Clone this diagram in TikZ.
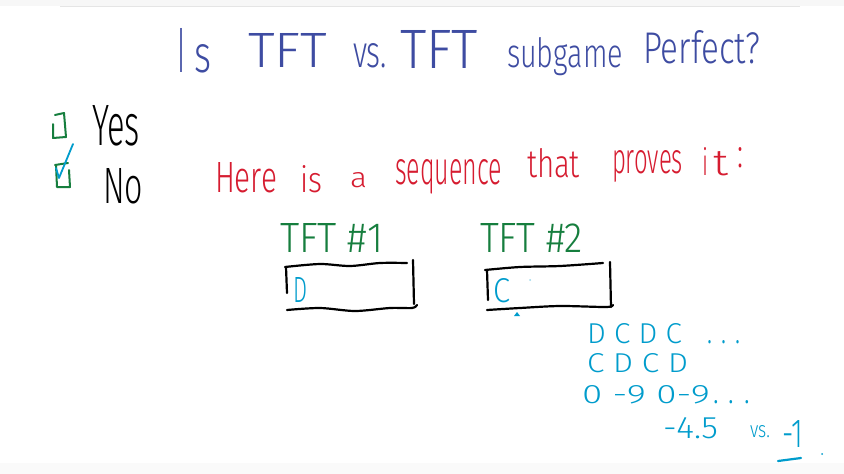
\documentclass[tikz,border=0pt]{standalone}
\usepackage{fontspec}
\setmainfont{Fira Sans Light}
\definecolor{titleblue}{RGB}{62,76,162}
\definecolor{inkred}{RGB}{214,28,48}
\definecolor{inkgreen}{RGB}{22,126,62}
\definecolor{inkcyan}{RGB}{0,156,204}
\newcommand\hw[3]{\resizebox{#1pt}{#2pt}{#3}}
\tikzset{
  txt/.style={inner sep=0pt, outer sep=0pt, anchor=base west},
  ttl/.style={txt, text=titleblue},
  red/.style={txt, text=inkred},
  grn/.style={txt, text=inkgreen},
  cyn/.style={txt, text=inkcyan},
  blk/.style={txt, text=black},
  boxline/.style={draw=black, line width=2.2pt, line cap=round, line join=round},
  chk/.style={draw=inkgreen, line width=2pt, line cap=round, line join=round},
  pen/.style={draw=inkcyan, line width=2.2pt, line cap=round, line join=round}
}
\begin{document}
\begin{tikzpicture}[x=1pt,y=-1pt]
\useasboundingbox (0,0) rectangle (844,474);
\fill[white] (0,0) rectangle (844,474);
\fill[black!3] (0,0) rectangle (844,6);
\draw[black!10, line width=0.6pt] (60,6.5) -- (800,6.5);
\fill[black!2] (0,463) rectangle (844,474);

% title
\node[ttl] (w1a) at (177,72) {\hw{8}{44}{I}};
\node[ttl] (w1b) at (194,72) {\hw{17}{28}{s}};
\node[ttl] (w2) at (248,67) {\hw{79}{34}{TFT}};
\node[ttl] (w3) at (353,67) {\hw{34}{24}{vs.}};
\node[ttl] (w4) at (400,68) {\hw{78}{38}{TFT}};
\node[ttl] (w5) at (507,67) {\hw{116}{30}{subgame}};
\node[ttl] (w6) at (643,63) {\hw{117}{33}{Perfect?}};

% check boxes
\draw[chk] (55,115) -- (64,113) -- (66,137) -- (53,138) -- (53,124);
\draw[chk] (55,165) -- (68,163);
\draw[chk] (56,165) -- (57,187) -- (70,187) -- (69,170);
\draw[pen, line width=1.8pt] (56,168) -- (59,178) -- (73,144);
\node[blk] (yes) at (92,145) {\hw{48}{40}{Yes}};
\node[blk] (no) at (103,203) {\hw{40}{35}{No}};

% red sentence
\node[red] (r1) at (215,192) {\hw{62}{30}{Here}};
\node[red] (r2) at (300,192) {\hw{22}{27}{is}};
\node[red] (r3) at (350,187) {\hw{17}{15}{a}};
\node[red] (r4) at (395,184) {\hw{107}{25}{sequence}};
\node[red] (r5) at (527,177) {\hw{53}{29}{that}};
\node[red] (r6) at (612,173) {\hw{71}{23}{proves}};
\node[red] (r7a) at (702,175) {\hw{6}{28}{i}};
\node[red] (r7b) at (713,175) {\hw{15}{24}{t}};
\node[red] (r8) at (737,167) {\hw{6}{20}{:}};

% TFT labels
\node[grn] (g1) at (280,252) {\hw{103}{29}{TFT \#1}};
\node[grn] (g2) at (480,252) {\hw{103}{29}{TFT \#2}};

% box 1
\draw[boxline] plot[smooth] coordinates {(285,267) (320,264) (350,266) (380,263) (407,263)};
\draw[boxline] (286,267) -- (287,293);
\draw[boxline] (413,260) -- (414,304);
\draw[boxline] plot[smooth] coordinates {(287,310) (320,308) (355,311) (390,308) (412,308) (417,305)};
\node[cyn] (d1) at (293,302) {\hw{14}{25}{D}};

% box 2
\draw[boxline] plot[smooth] coordinates {(485,270) (520,267) (560,266) (603,263)};
\draw[boxline] (487,270) -- (488,300);
\draw[boxline] (610,262) -- (611,307);
\draw[boxline] plot[smooth] coordinates {(487,310) (520,308) (560,306) (606,307) (613,305)};
\node[cyn] (c1) at (493,302) {\hw{17}{24}{C}};
\fill[inkcyan] (514,316) -- (517,312) -- (520,316) -- cycle;
\fill[inkcyan!40] (530,280) circle (1pt);

% sequences
\node[cyn] (s1) at (587,343) {\hw{95}{20}{D C D C}};
\node[cyn] (s1d) at (707,343) {\hw{33}{3}{. . .}};
\node[cyn] (s2) at (587,372) {\hw{101}{19}{C D C D}};
\node[cyn] (s3) at (582,403) {\hw{128}{18}{0 -9 0-9}};
\node[cyn] (s3d) at (713,403) {\hw{37}{3}{. . .}};
\node[cyn] (s4) at (663,438) {\hw{55}{21}{-4.5}};
\node[cyn] (s5) at (750,437) {\hw{20}{12}{vs.}};
\node[cyn] (s6) at (782,447) {\hw{21}{27}{-1}};
\draw[pen] (778,461) -- (801,458);
\fill[inkcyan] (822,454) circle (1pt);
\end{tikzpicture}
\end{document}
